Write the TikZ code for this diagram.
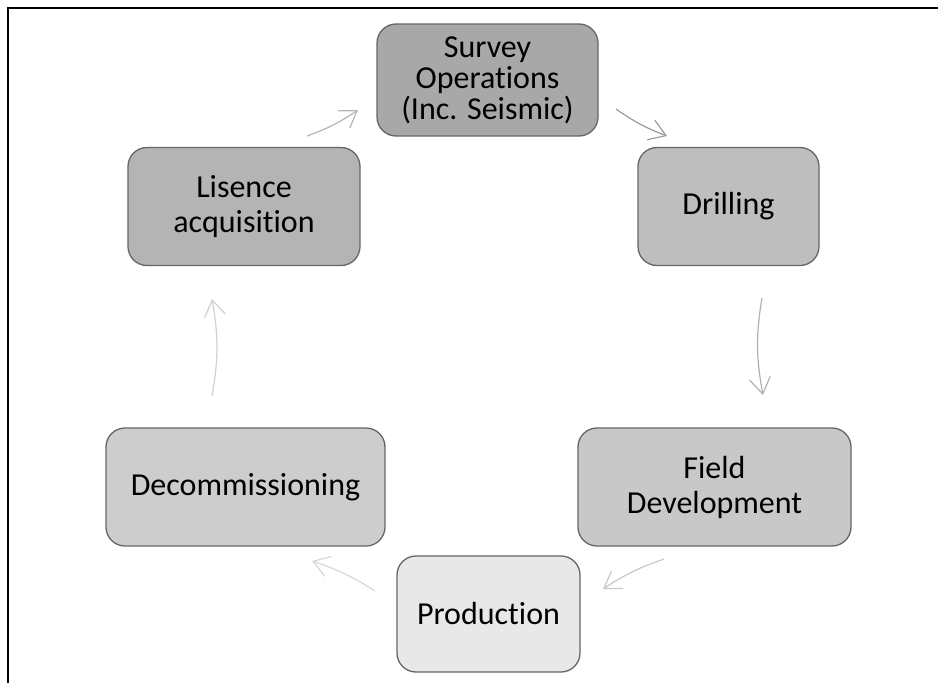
\documentclass[tikz,border=0pt]{standalone}
\usepackage{fontspec}
\setmainfont{Carlito}[Ligatures=NoCommon]
\usetikzlibrary{arrows.meta}
\definecolor{edgegray}{HTML}{666666}
\begin{document}
\begin{tikzpicture}[x=1pt,y=-1pt,
  stage/.style={draw=edgegray, line width=1.3pt, rounded corners=19pt,
    align=center, inner sep=0pt, font=\fontsize{32}{35}\selectfont},
  cyc/.style={line width=1.2pt, -{Straight Barb[length=16pt,width=21pt]}},
]
\useasboundingbox (0,0) rectangle (938,683);
% open frame along the top and left edges
\draw[line width=2.2pt] (8,683) -- (8,8) -- (938,8);

% stages of the cycle
\node[stage, fill={rgb,255:red,168;green,168;blue,168}, minimum width=221pt, minimum height=112pt, font=\fontsize{32}{31}\selectfont] (survey) at (487.5,80) {Survey\\Operations\\(Inc. Seismic)};
\node[stage, fill={rgb,255:red,190;green,190;blue,190}, minimum width=181pt, minimum height=118pt] (drill) at (728.5,206.5) {Drilling};
\node[stage, fill={rgb,255:red,200;green,200;blue,200}, minimum width=273pt, minimum height=118pt] (field) at (714.5,487) {Field\\Development};
\node[stage, fill={rgb,255:red,232;green,232;blue,232}, minimum width=183pt, minimum height=116pt] (prod) at (488.5,614) {Production};
\node[stage, fill={rgb,255:red,205;green,205;blue,205}, minimum width=279pt, minimum height=118pt] (decom) at (245.5,487) {Decommissioning};
\node[stage, fill={rgb,255:red,180;green,180;blue,180}, minimum width=232pt, minimum height=118pt] (lic) at (244,206.5) {Lisence\\acquisition};

% arrow end points between neighbouring stages
\coordinate (a1s) at (307,136); \coordinate (a1e) at (358,110);
\coordinate (a2s) at (616,109); \coordinate (a2e) at (667,136);
\coordinate (a3s) at (762,298); \coordinate (a3e) at (763,395);
\coordinate (a4s) at (664,559); \coordinate (a4e) at (603,589);
\coordinate (a5s) at (375,591); \coordinate (a5e) at (312,561);
\coordinate (a6s) at (212,396); \coordinate (a6e) at (212,299);

\draw[cyc, draw={rgb,255:red,180;green,180;blue,180}] (a1s) to[bend right=7] (a1e);
\draw[cyc, draw={rgb,255:red,155;green,155;blue,155}] (a2s) to[bend right=7] (a2e);
\draw[cyc, draw={rgb,255:red,176;green,176;blue,176}] (a3s) to[bend right=10] (a3e);
\draw[cyc, draw={rgb,255:red,200;green,200;blue,200}] (a4s) to[bend right=7] (a4e);
\draw[cyc, draw={rgb,255:red,215;green,215;blue,215}] (a5s) to[bend right=7] (a5e);
\draw[cyc, draw={rgb,255:red,208;green,208;blue,208}] (a6s) to[bend right=10] (a6e);
\end{tikzpicture}
\end{document}
